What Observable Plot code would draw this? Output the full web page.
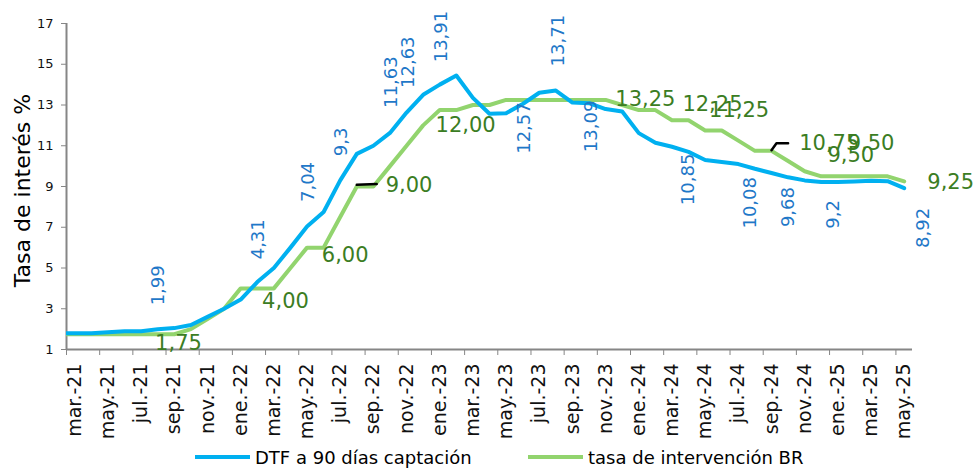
<!DOCTYPE html>
<html><head><meta charset="utf-8">
<script src="https://cdn.jsdelivr.net/npm/d3@7"></script>
<script src="https://cdn.jsdelivr.net/npm/@observablehq/plot@0.6"></script>
<style>
body{margin:0;background:#fff;font-family:"DejaVu Sans",sans-serif;}
#legend{position:relative;width:976px;height:22px;font-size:18px;color:#000;}
.item{position:absolute;top:0;display:flex;align-items:center;height:22px;white-space:nowrap}
.sw{display:inline-block;width:55px;height:4px;margin-right:5px}
</style></head><body>
<div id="chart"></div>
<div id="legend"></div>
<script>
// Months (feb.-21 is only the clipped lead-in point at the left edge)
const months = ["feb.-21","mar.-21","abr.-21","may.-21","jun.-21","jul.-21","ago.-21","sep.-21","oct.-21","nov.-21","dic.-21",
"ene.-22","feb.-22","mar.-22","abr.-22","may.-22","jun.-22","jul.-22","ago.-22","sep.-22","oct.-22","nov.-22","dic.-22",
"ene.-23","feb.-23","mar.-23","abr.-23","may.-23","jun.-23","jul.-23","ago.-23","sep.-23","oct.-23","nov.-23","dic.-23",
"ene.-24","feb.-24","mar.-24","abr.-24","may.-24","jun.-24","jul.-24","ago.-24","sep.-24","oct.-24","nov.-24","dic.-24",
"ene.-25","feb.-25","mar.-25","abr.-25","may.-25"];

const dtf = [1.80,1.80,1.80,1.85,1.90,1.90,1.99,2.05,2.20,2.60,3.00,
3.45,4.31,5.00,6.00,7.04,7.75,9.30,10.60,11.00,11.63,12.63,13.50,
14.00,14.45,13.35,12.57,12.60,13.05,13.60,13.71,13.12,13.09,12.80,12.68,
11.62,11.15,10.95,10.70,10.30,10.20,10.10,9.87,9.66,9.45,9.30,9.22,
9.22,9.25,9.28,9.26,8.92];

const br = [1.75,1.75,1.75,1.75,1.75,1.75,1.75,1.75,2.00,2.50,3.00,
4.00,4.00,4.00,5.00,6.00,6.00,7.50,9.00,9.00,10.00,11.00,12.00,
12.75,12.75,13.00,13.00,13.25,13.25,13.25,13.25,13.25,13.25,13.25,13.00,
12.75,12.75,12.25,12.25,11.75,11.75,11.25,10.75,10.75,10.25,9.75,9.50,
9.50,9.50,9.50,9.50,9.25];

const tickLabels = ["mar.-21","may.-21","jul.-21","sep.-21","nov.-21","ene.-22","mar.-22","may.-22","jul.-22","sep.-22","nov.-22",
"ene.-23","mar.-23","may.-23","jul.-23","sep.-23","nov.-23","ene.-24","mar.-24","may.-24","jul.-24","sep.-24","nov.-24",
"ene.-25","mar.-25","may.-25"];

const yTicks = [1,3,5,7,9,11,13,15,17];

// data labels: text, placement (month index, value)
const dtfLabelText = ["1,99","4,31","7,04","9,3","11,63","12,63","13,91","12,57","13,71","13,09","10,85","10,08","9,68","9,2","8,92"];
const dtfLabelX = [5.05,11.05,14.07,16.05,19.1,20.1,22.12,27.12,29.14,31.16,36.98,40.69,43.02,45.7,51.16];
const dtfLabelY = [4.15,6.41,9.22,11.19,14.12,15.1,16.36,11.87,16.16,11.95,9.35,8.2,7.99,7.63,6.97];

const brLabelText = ["1,75","4,00","6,00","9,00","12,00","13,25","12,25","11,25","10,75","9,50","9,50","9,25"];
const brLabelX = [6.25,12.7,16.3,20.15,23.56,34.4,38.44,40.05,45.48,46.78,48.0,52.8];
const brLabelY = [1.3,3.37,5.62,9.05,12.0,13.29,13.05,12.73,11.1,10.52,11.1,9.22];

// label leader lines
const leaders = [
  [{x:17.0,y:9.08},{x:18.2,y:9.12}],
  [{x:42.0,y:10.78},{x:42.3,y:11.12},{x:43.0,y:11.12}]
];

const seriesNames = ["DTF a 90 días captación","tasa de intervención BR"];
const colors = ["#00B0F0","#92D46E"];

const idx = m => months.indexOf(m) - 1;
const dtfData = dtf.map((v,i)=>({x:i-1,y:v}));
const brData = br.map((v,i)=>({x:i-1,y:v}));
const labelPos = tickLabels.map(idx);
const tickPos = labelPos.map(p => p - 0.5);
const dtfLabels = dtfLabelText.map((t,i)=>({t,x:dtfLabelX[i],y:dtfLabelY[i]}));
const brLabels = brLabelText.map((t,i)=>({t,x:brLabelX[i],y:brLabelY[i]}));

const chart = Plot.plot({
  width: 976, height: 446,
  marginLeft: 66, marginRight: 64, marginTop: 23, marginBottom: 97,
  style: {fontFamily: "DejaVu Sans", background: "#fff", overflow: "visible"},
  x: {type: "linear", domain: [-0.5, 50.5]},
  y: {domain: [1, 17]},
  marks: [
    Plot.axisY({ticks: yTicks, tickSize: 5, tickPadding: 8, fontSize: 13, stroke: "#868686", fill: "#111", label: null}),
    Plot.axisX({ticks: tickPos, tickSize: 6, stroke: "#868686", fill: "none", label: null}),
    Plot.axisX({ticks: labelPos, tickSize: 0, tickPadding: 14, tickRotate: -90, fontSize: 19, fill: "#111",
                tickFormat: d => tickLabels[labelPos.indexOf(d)], label: null}),
    Plot.ruleY([1], {stroke: "#868686", strokeWidth: 2}),
    Plot.ruleX([-0.5], {stroke: "#868686", strokeWidth: 2}),
    Plot.text(["Tasa de interés %"], {frameAnchor: "left", dx: -44, dy: 4, rotate: -90, fontSize: 22, fill: "#000", textAnchor: "middle", lineAnchor: "middle"}),
    Plot.line(brData, {x: "x", y: "y", stroke: colors[1], strokeWidth: 4, clip: "frame"}),
    Plot.line(dtfData, {x: "x", y: "y", stroke: colors[0], strokeWidth: 4, clip: "frame"}),
    ...leaders.map(l => Plot.line(l, {x: "x", y: "y", stroke: "#000", strokeWidth: 2.5})),
    Plot.text(dtfLabels, {x: "x", y: "y", text: "t", rotate: -90, fontSize: 18, fill: "#1F78C8", textAnchor: "middle", lineAnchor: "middle"}),
    Plot.text(brLabels, {x: "x", y: "y", text: "t", fontSize: 21, fill: "#3B7D23", textAnchor: "middle", lineAnchor: "middle"})
  ]
});
document.getElementById("chart").appendChild(chart);

const legend = document.getElementById("legend");
const lefts = [195, 528];
seriesNames.forEach((n,i)=>{
  const it = document.createElement("div");
  it.className = "item";
  it.style.left = lefts[i] + "px";
  it.innerHTML = `<span class="sw" style="background:${colors[i]}"></span><span>${n}</span>`;
  legend.appendChild(it);
});
</script>
</body></html>
